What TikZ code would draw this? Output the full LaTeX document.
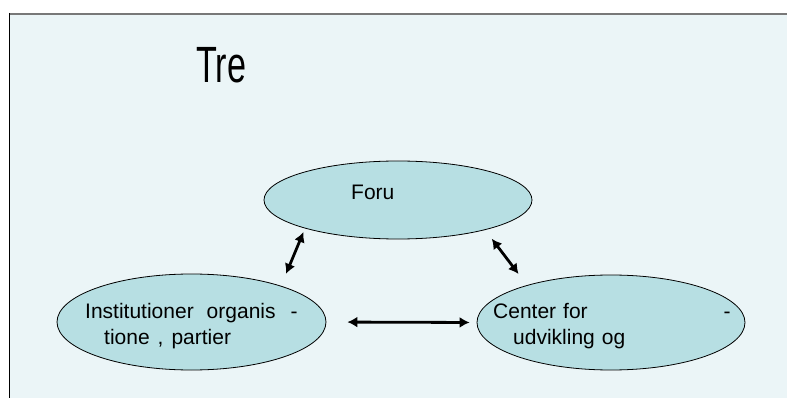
\documentclass[tikz,border=0pt]{standalone}
\usepackage{fontspec}
\setmainfont{Liberation Sans}
\usetikzlibrary{arrows.meta,shapes.geometric}

\definecolor{slidebg}{RGB}{235,245,247}
\definecolor{ovalfill}{RGB}{183,223,227}
\definecolor{rulegray}{RGB}{120,120,120}

\tikzset{
    oval/.style={ellipse, draw=black, line width=0.8pt, fill=ovalfill, inner sep=0pt},
    ovaltext/.style={anchor=base west, align=left, inner sep=0pt,
        font=\fontsize{21}{26}\selectfont},
    link/.style={line width=2.8pt,
        {Latex[length=10pt,width=11pt]}-{Latex[length=10pt,width=11pt]}}
}

\begin{document}
\begin{tikzpicture}[x=1pt, y=-1pt]
        \useasboundingbox (0,0) rectangle (787,398);
        % slide background and edges
        \fill[slidebg] (9,13) rectangle (787,398);
        \draw[rulegray, line width=2pt] (9,14) -- (787,14);
        \draw[black, line width=1.5pt] (9.5,13) -- (9.5,398);

        \node[anchor=base west, inner sep=0pt, xscale=0.67, transform shape,
            font=\fontsize{51}{60}\selectfont] (title) at (196,83) {Tre};

        % the three ovals
        \node[oval, minimum width=268pt, minimum height=78pt] (forum) at (398,200) {};
        \node[oval, minimum width=269pt, minimum height=96pt] (inst) at (191.5,322) {};
        \node[oval, minimum width=268pt, minimum height=95pt] (center) at (611,322.5) {};

        \node[ovaltext, text width=100pt] (forumtext) at ([shift={(-47,0)}]forum.center) {Foru};
        \node[ovaltext, text width=240pt] (insttext) at ([shift={(-106.5,-4)}]inst.center)
            {Institutioner\hspace{13pt}organis\hspace{15pt}-\\
             \hspace*{19pt}tione\hspace{8pt},\hspace{8pt}partier};
        \node[ovaltext, text width=250pt] (centertext) at ([shift={(-118,-4.5)}]center.center)
            {Center for\hspace{136pt}-\\
             \hspace*{20pt}udvikling og};

        \draw[link, shorten <=13pt, shorten >=4pt] (inst.22.6) -- (forum.197.4);
        \draw[link, shorten <=11pt, shorten >=14pt] (forum.341) -- (center.156);
        \draw[link, shorten <=21pt, shorten >=7pt] (inst.east) -- (center.west);
    \end{tikzpicture}
\end{document}
